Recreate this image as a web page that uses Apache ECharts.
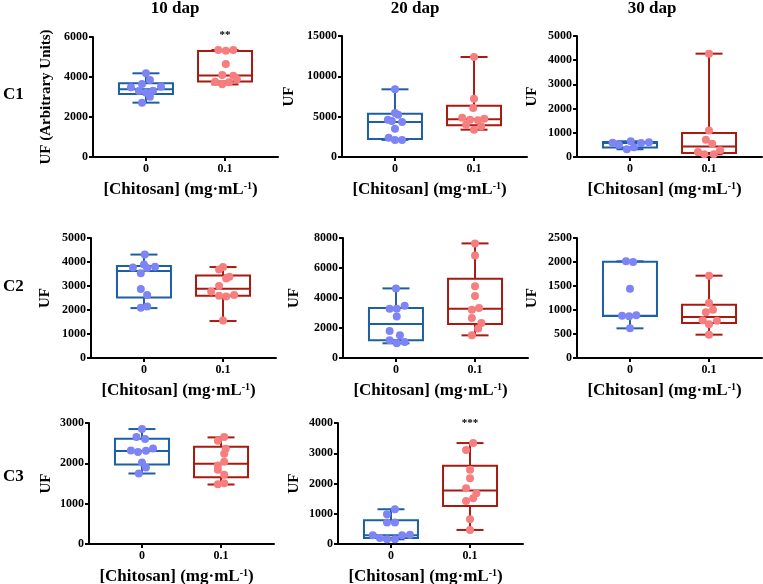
<!DOCTYPE html>
<html>
<head>
<meta charset="utf-8">
<script src="https://cdn.jsdelivr.net/npm/echarts@6/dist/echarts.min.js"></script>
<style>html,body{margin:0;padding:0;background:#fff;}#c{width:763px;height:584px;}</style>
</head>
<body>
<div id="c"></div>
<script>
// ---------- DATA ----------
const xCategories = ['0', '0.1'];
const colTitles = ['10 dap', '20 dap', '30 dap'];
const rowLabels = ['C1', 'C2', 'C3'];

// y-axis ranges [max, interval]
const yMax      = [6000, 15000, 5000, 5000, 8000, 2500, 3000, 4000];
const yInterval = [2000, 5000, 1000, 1000, 2000, 500, 1000, 1000];

// box summaries: [min, Q1, median, Q3, max]  (group 0 / group 0.1)
const c1d10Box0 = [2717, 3150, 3383, 3683, 4185];
const c1d10Box1 = [3630, 3770, 4080, 5300, 5350];
const c1d20Box0 = [2120, 2230, 4340, 5370, 8390];
const c1d20Box1 = [3390, 3930, 4670, 6360, 12400];
const c1d30Box0 = [320, 390, 580, 615, 650];
const c1d30Box1 = [110, 165, 430, 990, 4270];
const c2d10Box0 = [2080, 2520, 3620, 3830, 4310];
const c2d10Box1 = [1540, 2590, 2890, 3440, 3790];
const c2d20Box0 = [980, 1180, 2270, 3330, 4640];
const c2d20Box1 = [1510, 2270, 3290, 5290, 7640];
const c2d30Box0 = [618, 875, 882, 2007, 2014];
const c2d30Box1 = [486, 729, 854, 1111, 1715];
const c3d10Box0 = [1748, 1972, 2303, 2610, 2850];
const c3d10Box1 = [1475, 1657, 1988, 2411, 2643];
const c3d20Box0 = [155, 199, 287, 785, 1149];
const c3d20Box1 = [464, 1260, 1768, 2586, 3337];

// individual points (values) and horizontal jitter (category units)
const c1d10Pts0 = [4185, 3850, 3650, 3485, 3517, 3300, 3317, 3217, 3017, 2717];
const c1d10Jit0 = [0, 0.05, -0.05, -0.19, 0.19, -0.09, 0.09, 0, 0.05, -0.05];
const c1d10Pts1 = [5350, 5317, 5350, 4650, 4100, 4067, 3900, 3767, 3633, 3733];
const c1d10Jit1 = [-0.085, 0.01, 0.105, 0.01, -0.035, 0.105, 0.15, -0.125, -0.035, 0.05];

const c1d20Pts0 = [8390, 5450, 5250, 4630, 4460, 4340, 3510, 2400, 2120, 2120];
const c1d20Jit0 = [0, 0, 0.04, -0.09, -0.04, 0.09, 0, -0.08, 0, 0.09];
const c1d20Pts1 = [12400, 7230, 6070, 4880, 4750, 4630, 4550, 4000, 3800, 3390];
const c1d20Jit1 = [0, 0, -0.01, -0.15, 0.13, -0.05, 0.05, -0.1, 0.09, 0];

const c1d30Pts0 = [590, 510, 650, 320, 400, 580, 605];
const c1d30Jit0 = [-0.22, -0.14, 0.01, -0.04, 0.05, 0.14, 0.24];
const c1d30Pts1 = [4270, 1100, 716, 550, 207, 110, 110, 275];
const c1d30Jit1 = [0, 0, -0.04, 0.04, -0.14, -0.06, 0.06, 0.14];

const c2d10Pts0 = [4310, 3770, 3900, 3750, 3800, 3530, 2870, 2630, 2090, 2150];
const c2d10Jit0 = [0.01, -0.14, 0, 0.04, 0.14, -0.04, -0.04, 0.04, -0.04, 0.04];
const c2d10Pts1 = [3690, 3790, 3390, 3310, 3000, 2770, 2590, 2560, 2620, 1560];
const c2d10Jit1 = [-0.05, 0, 0.08, 0.04, -0.05, -0.15, -0.05, 0.04, 0.14, 0];

const c2d20Pts0 = [4640, 3290, 3290, 3490, 2760, 1800, 1510, 1180, 980, 1070];
const c2d20Jit0 = [0, -0.08, 0.01, 0.11, 0.01, -0.08, 0.05, -0.08, 0.01, 0.11];
const c2d20Pts1 = [7640, 6840, 4780, 4130, 3220, 3330, 2670, 2330, 1960, 1510];
const c2d20Jit1 = [0, 0, 0, 0, -0.04, 0.05, -0.04, 0.08, 0.04, -0.04];

const c2d30Pts0 = [2014, 2000, 1444, 882, 868, 889, 618];
const c2d30Jit0 = [-0.05, 0.04, 0, -0.1, -0.01, 0.08, 0];
const c2d30Pts1 = [1715, 1146, 951, 1007, 785, 778, 701, 486];
const c2d30Jit1 = [0, 0, -0.04, 0.05, -0.08, 0.1, 0, 0];

const c3d10Pts0 = [2850, 2651, 2601, 2320, 2278, 2312, 2370, 2022, 1897, 1748];
const c3d10Jit0 = [0, -0.07, 0.04, -0.14, -0.05, 0.05, 0.14, 0, 0.05, -0.04];
const c3d10Pts1 = [2651, 2560, 2361, 2237, 1947, 2038, 1839, 1715, 1483, 1508];
const c3d10Jit1 = [0.04, -0.04, 0.06, 0.04, -0.04, 0.04, -0.04, 0.04, -0.04, 0.04];

const c3d20Pts0 = [1149, 983, 707, 707, 287, 199, 155, 155, 287, 309];
const c3d20Jit0 = [0.05, -0.05, -0.05, 0.05, -0.23, -0.14, -0.05, 0.05, 0.14, 0.24];
const c3d20Pts1 = [3337, 3105, 2453, 2177, 1845, 1680, 1514, 1425, 818, 464];
const c3d20Jit1 = [0.04, -0.05, 0, 0, -0.05, 0.08, 0.04, -0.05, 0, 0];

// significance annotations: [panel index, group index, y value, text]
const annotations = [[0, 1, 6100, '**'], [7, 1, 4000, '***']];

// ---------- BUILD ----------
const panels = [
  {box: [c1d10Box0, c1d10Box1], pts: [c1d10Pts0, c1d10Pts1], jit: [c1d10Jit0, c1d10Jit1], yName: 'UF (Arbitrary Units)'},
  {box: [c1d20Box0, c1d20Box1], pts: [c1d20Pts0, c1d20Pts1], jit: [c1d20Jit0, c1d20Jit1], yName: 'UF'},
  {box: [c1d30Box0, c1d30Box1], pts: [c1d30Pts0, c1d30Pts1], jit: [c1d30Jit0, c1d30Jit1], yName: 'UF'},
  {box: [c2d10Box0, c2d10Box1], pts: [c2d10Pts0, c2d10Pts1], jit: [c2d10Jit0, c2d10Jit1], yName: 'UF'},
  {box: [c2d20Box0, c2d20Box1], pts: [c2d20Pts0, c2d20Pts1], jit: [c2d20Jit0, c2d20Jit1], yName: 'UF'},
  {box: [c2d30Box0, c2d30Box1], pts: [c2d30Pts0, c2d30Pts1], jit: [c2d30Jit0, c2d30Jit1], yName: 'UF'},
  {box: [c3d10Box0, c3d10Box1], pts: [c3d10Pts0, c3d10Pts1], jit: [c3d10Jit0, c3d10Jit1], yName: 'UF'},
  {box: [c3d20Box0, c3d20Box1], pts: [c3d20Pts0, c3d20Pts1], jit: [c3d20Jit0, c3d20Jit1], yName: 'UF'}
];

// layout (pixels)
const gridPos = [
  {left: 93, top: 37, height: 120}, {left: 342, top: 36, height: 121}, {left: 577, top: 36, height: 121},
  {left: 91, top: 238, height: 120}, {left: 343, top: 238, height: 120}, {left: 577, top: 238, height: 120},
  {left: 89, top: 423, height: 121}, {left: 338, top: 423, height: 121}
];
const yNameGap = [39, 45, 37, 38, 41, 37, 35, 36];
const GRID_W = 185;
const FONT = 'Liberation Serif';
const boxColors = ['#1c5fa2', '#a61a12'];
const ptColors = ['#7d84f5', '#f67e7e'];
const BOX_W = 54;

function renderBox(params, api) {
  const x = api.value(0);
  const mn = api.coord([x, api.value(1)]);
  const q1 = api.coord([x, api.value(2)]);
  const md = api.coord([x, api.value(3)]);
  const q3 = api.coord([x, api.value(4)]);
  const mx = api.coord([x, api.value(5)]);
  const cx = mn[0];
  const h = BOX_W / 2, c = BOX_W / 4;
  const st = {stroke: boxColors[params.dataIndex], lineWidth: 2, fill: null};
  const L = (x1, y1, x2, y2) => ({type: 'line', shape: {x1, y1, x2, y2}, style: st});
  return {type: 'group', children: [
    {type: 'rect', shape: {x: cx - h, y: q3[1], width: BOX_W, height: q1[1] - q3[1]}, style: st},
    L(cx - h, md[1], cx + h, md[1]),
    L(cx, q3[1], cx, mx[1]),
    L(cx, q1[1], cx, mn[1]),
    L(cx - c, mx[1], cx + c, mx[1]),
    L(cx - c, mn[1], cx + c, mn[1])
  ]};
}

const grids = [], xAxes = [], yAxes = [], series = [];
const lbl = {fontFamily: FONT, fontWeight: 'bold', fontSize: 12, color: '#000'};
panels.forEach((p, i) => {
  grids.push({left: gridPos[i].left, top: gridPos[i].top, width: GRID_W, height: gridPos[i].height, outerBoundsMode: 'none'});
  xAxes.push({
    type: 'value', gridIndex: i, min: -0.67, max: 1.67,
    name: '{a|[Chitosan] (mg·mL}{s|-1}{a|)}', nameLocation: 'middle', nameGap: 24,
    nameTextStyle: {padding: [0, 10, 0, 0], rich: {
      a: {fontFamily: FONT, fontWeight: 'bold', fontSize: 17, color: '#000', lineHeight: 18},
      s: {fontFamily: FONT, fontWeight: 'bold', fontSize: 10, color: '#000', lineHeight: 18, verticalAlign: 'top', padding: [0, 0, 6, 0]}
    }},
    axisLine: {onZero: false, lineStyle: {color: '#000', width: 2}},
    axisTick: {show: true, length: 4, lineStyle: {color: '#000', width: 2}, customValues: [0, 1]},
    axisLabel: Object.assign({customValues: [0, 1], margin: 6, formatter: v => xCategories[Math.round(v)]}, lbl),
    splitLine: {show: false}
  });
  yAxes.push({
    type: 'value', gridIndex: i, min: 0, max: yMax[i], interval: yInterval[i],
    name: p.yName, nameLocation: 'middle', nameGap: yNameGap[i],
    nameTextStyle: {fontFamily: FONT, fontWeight: 'bold', fontSize: 15, color: '#000'},
    axisLine: {show: true, onZero: false, lineStyle: {color: '#000', width: 2}},
    axisTick: {show: true, length: 4, lineStyle: {color: '#000', width: 2}},
    axisLabel: Object.assign({margin: 5, formatter: v => String(v)}, lbl),
    splitLine: {show: false}
  });
  series.push({
    type: 'custom', xAxisIndex: i, yAxisIndex: i, renderItem: renderBox, clip: false, z: 2,
    data: p.box.map((b, g) => [g].concat(b))
  });
  [0, 1].forEach(g => {
    series.push({
      type: 'scatter', xAxisIndex: i, yAxisIndex: i, symbolSize: 8, z: 3, clip: false,
      itemStyle: {color: ptColors[g], opacity: 1},
      data: p.pts[g].map((v, k) => [g + p.jit[g][k], v])
    });
  });
});
annotations.forEach(a => {
  series.push({
    type: 'scatter', xAxisIndex: a[0], yAxisIndex: a[0], symbolSize: 1, clip: false, z: 4,
    itemStyle: {opacity: 0},
    label: {show: true, position: 'inside', formatter: a[3], fontFamily: FONT, fontWeight: 'bold', fontSize: 11, color: '#000', opacity: 1},
    data: [[a[1], a[2]]]
  });
});

const graphics = [];
const titleX = [175, 415, 652];
colTitles.forEach((t, k) => graphics.push({type: 'text', x: titleX[k], y: 9, style: {text: t, font: 'bold 17px "Liberation Serif"', fill: '#000', align: 'center', verticalAlign: 'middle'}}));
const rowY = [95, 287, 477];
rowLabels.forEach((t, k) => graphics.push({type: 'text', x: 3, y: rowY[k], style: {text: t, font: 'bold 17px "Liberation Serif"', fill: '#000', align: 'left', verticalAlign: 'middle'}}));

const chart = echarts.init(document.getElementById('c'), null, {renderer: 'canvas'});
chart.setOption({
  animation: false,
  backgroundColor: '#fff',
  grid: grids, xAxis: xAxes, yAxis: yAxes, series: series, graphic: graphics
});
</script>
</body>
</html>
